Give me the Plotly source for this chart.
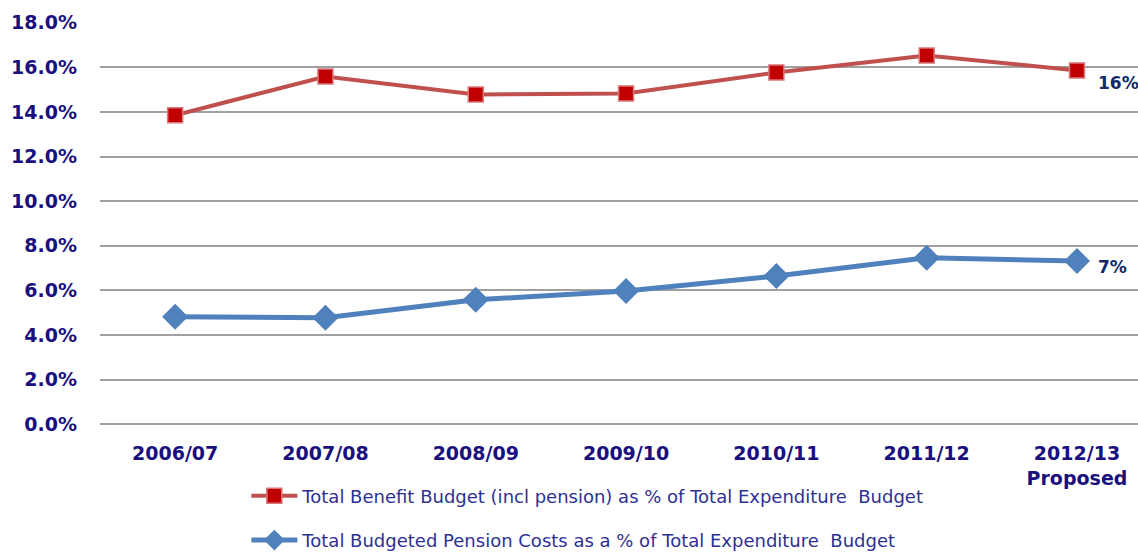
import plotly.graph_objects as go

categories = ["2006/07", "2007/08", "2008/09", "2009/10", "2010/11", "2011/12", "2012/13<br>Proposed"]
benefit_pct = [13.85, 15.59, 14.78, 14.83, 15.77, 16.53, 15.86]
pension_pct = [4.82, 4.78, 5.58, 5.98, 6.65, 7.46, 7.32]
benefit_name = "Total Benefit Budget (incl pension) as % of Total Expenditure  Budget"
pension_name = "Total Budgeted Pension Costs as a % of Total Expenditure  Budget"
end_labels = ["16%", "7%"]
y_ticks = [0, 2, 4, 6, 8, 10, 12, 14, 16, 18]

x_idx = list(range(len(categories)))

fig = go.Figure()
fig.add_trace(go.Scatter(
    x=x_idx, y=benefit_pct, name=benefit_name, mode="lines+markers", legendgroup="a",
    line=dict(color="#C0504D", width=4),
    marker=dict(symbol="square", size=15, color="#C00000", line=dict(color="#D9777A", width=1.5)),
))
fig.add_trace(go.Scatter(
    x=x_idx, y=pension_pct, name=pension_name, mode="lines+markers", legendgroup="b",
    line=dict(color="#4F81BD", width=5),
    marker=dict(symbol="diamond", size=20, color="#4F81BD", line=dict(color="#4F81BD", width=0)),
))

for val, txt, ys in zip([benefit_pct[-1], pension_pct[-1]], end_labels, [-13, -6]):
    fig.add_annotation(x=x_idx[-1], y=val, text=txt, showarrow=False, xanchor="left",
                       yanchor="middle", xshift=19, yshift=ys,
                       font=dict(family="DejaVu Sans", size=17, color="#14296B", weight="bold"))

fig.update_layout(
    width=1138, height=552,
    margin=dict(l=100, r=0, t=22, b=127, autoexpand=False),
    plot_bgcolor="white", paper_bgcolor="white",
    showlegend=True,
    legend=dict(x=0.141, y=(552 - 477.5) / 552, xref="paper", yref="container",
                xanchor="left", yanchor="top", orientation="v",
                font=dict(family="DejaVu Sans", size=18, color="#2E3192"),
                itemwidth=46, tracegroupgap=18, bgcolor="rgba(0,0,0,0)"),
)
fig.update_xaxes(
    tickvals=x_idx, ticktext=["<b>%s</b>" % c for c in categories],
    range=[-0.5, 6.406], showgrid=False, zeroline=False, showline=False,
    tickfont=dict(family="DejaVu Sans", size=19, color="#1A0F7F"),
    ticks="", ticklabelstandoff=15,
)
fig.update_yaxes(
    range=[-0.03, 18.03], tickvals=y_ticks, ticktext=["<b>%.1f%%</b>" % v for v in y_ticks],
    showgrid=True, gridcolor="#A0A0A0", gridwidth=2,
    zeroline=True, zerolinecolor="#A0A0A0", zerolinewidth=2, showline=False,
    tickfont=dict(family="DejaVu Sans", size=19, color="#1A0F7F"),
    ticks="", ticklabelstandoff=22,
)
fig.write_html("out.html")
